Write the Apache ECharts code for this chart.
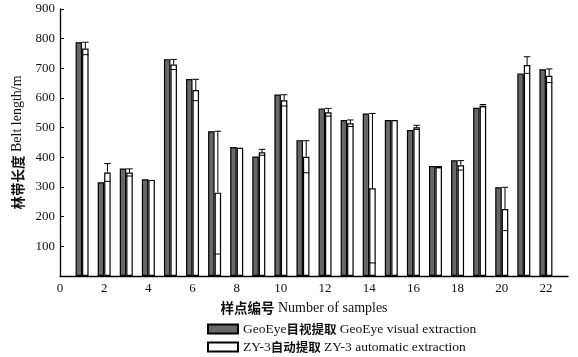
<!DOCTYPE html>
<html>
<head>
<meta charset="utf-8">
<script src="https://cdn.jsdelivr.net/npm/echarts@6/dist/echarts.min.js"></script>
<style>
  html, body { margin: 0; padding: 0; background: #fff; }
  #chart { width: 578px; height: 357px; }
</style>
</head>
<body>
<div id="chart"></div>
<script>
// 样点编号
var sampleIds = [1, 2, 3, 4, 5, 6, 7, 8, 9, 10, 11, 12, 13, 14, 15, 16, 17, 18, 19, 20, 21, 22];
// GeoEye目视提取
var geoEye = [788, 316, 362, 326, 731, 664, 488, 435, 403, 612, 458, 565, 526, 548, 526, 492, 371, 390, 567, 299, 683, 697];
// ZY-3自动提取 (mean + error)
var zy3 = [767, 349, 349, 324, 713, 627, 281, 432, 417, 592, 402, 552, 515, 296, 526, 501, 367, 373, 574, 226, 711, 675];
var zy3Err = [21, 30, 12, 0, 17, 36, 207, 0, 10, 19, 54, 13, 11, 252, 0, 7, 2, 16, 4, 73, 28, 23];
var xTicks = [0, 2, 4, 6, 8, 10, 12, 14, 16, 18, 20, 22];

var nameGeo = 'GeoEye目视提取 GeoEye visual extraction';
var nameZy = 'ZY-3自动提取 ZY-3 automatic extraction';

var serif = "'Liberation Serif', 'Times New Roman', serif";
var cjk = "'Noto Sans CJK SC'";
var BAR_W = 6.5;

function cjkRich(s) {
  return s.replace(/([\u4e00-\u9fa5]+)/g, '{c|$1}');
}

var mychart = echarts.init(document.getElementById('chart'));

var geoData = sampleIds.map(function (x, i) { return [x, geoEye[i]]; });
var zyData = sampleIds.map(function (x, i) { return [x, zy3[i]]; });
var errData = sampleIds.map(function (x, i) {
  return [x, zy3[i] - zy3Err[i], zy3[i] + zy3Err[i], zy3[i]];
});

var option = {
  animation: false,
  grid: { left: 60, right: 10, top: 9, bottom: 81 },
  legend: {
    orient: 'vertical',
    left: 207,
    top: 322,
    padding: 0,
    itemWidth: 30,
    itemHeight: 9,
    itemGap: 4,
    icon: 'rect',
    data: [nameGeo, nameZy],
    formatter: function (name) { return cjkRich(name); },
    textStyle: {
      fontFamily: serif,
      fontSize: 13.5,
      color: '#111',
      lineHeight: 13,
      rich: {
        c: { fontFamily: cjk, fontWeight: 'bold', fontSize: 12.5, lineHeight: 13, color: '#111' }
      }
    }
  },
  xAxis: {
    type: 'value',
    min: 0,
    max: 23,
    interval: 2,
    name: '{c|样点编号} Number of samples',
    nameLocation: 'middle',
    nameGap: 25,
    nameTextStyle: {
      fontFamily: serif,
      fontSize: 14,
      color: '#111',
      padding: [0, 20, 0, 0],
      rich: {
        c: { fontFamily: cjk, fontWeight: 'bold', fontSize: 13.5, color: '#111' }
      }
    },
    splitLine: { show: false },
    axisTick: { show: false },
    axisLine: { lineStyle: { color: '#000', width: 1.3 } },
    axisLabel: {
      margin: 6,
      fontFamily: serif,
      fontSize: 13,
      color: '#111',
      showMaxLabel: false,
      formatter: function (v) { return xTicks.indexOf(v) >= 0 ? String(v) : ''; }
    }
  },
  yAxis: {
    type: 'value',
    min: 0,
    max: 900,
    interval: 100,
    name: '{c|林带长度} Belt length/m',
    nameLocation: 'middle',
    nameGap: 35,
    nameRotate: 90,
    nameTextStyle: {
      fontFamily: serif,
      fontSize: 14,
      color: '#111',
      rich: {
        c: { fontFamily: cjk, fontWeight: 'bold', fontSize: 13.5, color: '#111' }
      }
    },
    splitLine: { show: false },
    axisLine: { show: true, lineStyle: { color: '#000', width: 1.3 } },
    axisTick: { show: true, inside: true, length: 4, lineStyle: { color: '#000' } },
    axisLabel: {
      margin: 5,
      fontFamily: serif,
      fontSize: 13,
      color: '#111',
      formatter: function (v) { return v === 0 ? '' : String(v); }
    }
  },
  series: [
    {
      name: nameGeo,
      type: 'bar',
      data: geoData,
      barWidth: BAR_W,
      barGap: '0%',
      itemStyle: { color: '#686868', borderColor: '#000', borderWidth: 1.2 }
    },
    {
      name: nameZy,
      type: 'bar',
      data: zyData,
      barWidth: BAR_W,
      barGap: '0%',
      itemStyle: { color: '#fff', borderColor: '#000', borderWidth: 1.2 }
    },
    {
      name: 'err',
      type: 'custom',
      data: errData,
      silent: true,
      z: 5,
      renderItem: function (params, api) {
        var x = api.value(0);
        var lo = api.value(1), hi = api.value(2), mean = api.value(3);
        if (hi - lo < 1) return { type: 'group', children: [] };
        var pHi = api.coord([x, hi]);
        var pLo = api.coord([x, lo]);
        var pMean = api.coord([x, mean]);
        var cx = pHi[0] + BAR_W / 2;
        var half = BAR_W / 2;
        var style = { stroke: '#000', lineWidth: 1 };
        return {
          type: 'group',
          children: [
            { type: 'line', shape: { x1: cx, y1: pMean[1], x2: cx, y2: pHi[1] }, style: style },
            { type: 'line', shape: { x1: cx - half, y1: pHi[1], x2: cx + half, y2: pHi[1] }, style: style },
            { type: 'line', shape: { x1: cx - half, y1: pLo[1], x2: cx + half, y2: pLo[1] }, style: style }
          ]
        };
      }
    }
  ]
};

mychart.setOption(option);
</script>
</body>
</html>
